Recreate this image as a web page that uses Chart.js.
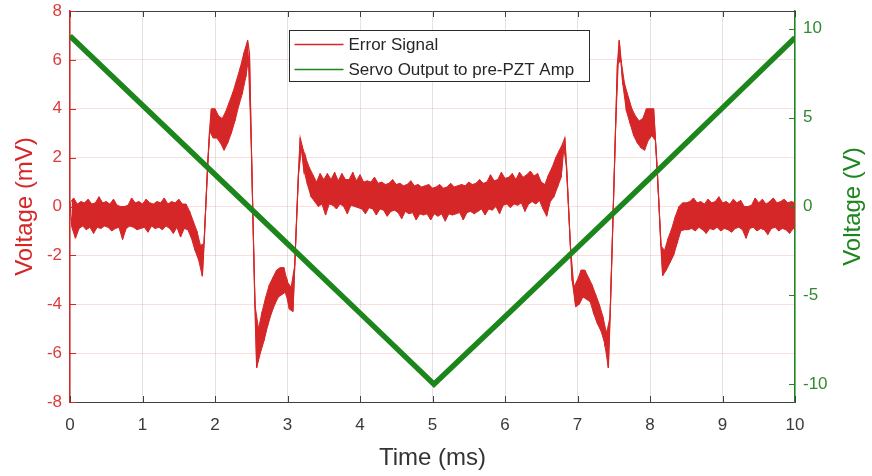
<!DOCTYPE html>
<html>
<head>
<meta charset="utf-8">
<script src="https://cdn.jsdelivr.net/npm/chart.js@4.4.1/dist/chart.umd.min.js"></script>
<style>
    html, body { margin: 0; padding: 0; background: #fff; }
    #wrap { width: 872px; height: 476px; }
</style>
</head>
<body>
<div id="wrap"><canvas id="myCanvas"></canvas></div>
<script>
// error signal envelope, one pair per 0.05 ms (upper edge, then lower edge half a step later)
const ERR_STEP = 0.05;
const errHi = [
    0.15, 0.35, 0.1, 0.2, 0.15, 0.3, 0.1, 0.15, 0.4, 0.15,          // 0.0 - 0.45
    0.2, 0.1, 0.3, 0.05, 0.0, 0.0, 0.05, 0.35, 0.15, 0.2,           // 0.5 - 0.95
    0.1, 0.3, 0.15, 0.1, 0.2, 0.15, 0.35, 0.1, 0.2, 0.15,           // 1.0 - 1.45
    0.3, 0.1, 0.1, -0.2, -0.6, -1.0, -1.6, -1.5, 1.8, 4.0,          // 1.5 - 1.95
    4.0, 3.7, 3.6, 3.9, 4.3, 4.7, 5.2, 5.7, 6.3, 6.8,               // 2.0 - 2.45
    2.6, -4.0, -5.0, -4.3, -3.7, -3.2, -2.9, -2.6, -2.5, -2.5,      // 2.5 - 2.95
    -3.1, -3.3, -2.4, 1.3, 2.5, 2.0, 1.6, 1.3, 1.0, 1.35,           // 3.0 - 3.45
    1.1, 1.35, 1.1, 1.4, 1.05, 1.35, 1.1, 1.1, 1.4, 1.05,           // 3.5 - 3.95
    1.3, 1.0, 1.05, 1.0, 1.2, 0.95, 1.0, 0.9, 0.95, 1.1,            // 4.0 - 4.45
    0.9, 0.95, 0.85, 0.9, 1.05, 0.85, 0.9, 0.8, 0.85, 0.9,          // 4.5 - 4.95
    0.75, 0.8, 0.9, 0.75, 0.8, 0.95, 0.8, 0.85, 0.9, 0.85,          // 5.0 - 5.45
    1.0, 0.9, 0.95, 1.1, 0.95, 1.0, 1.3, 1.05, 1.1, 1.4,            // 5.5 - 5.95
    1.15, 1.2, 1.35, 1.1, 1.4, 1.2, 1.3, 1.45, 1.25, 1.35,          // 6.0 - 6.45
    1.0, 0.9, 1.3, 1.6, 2.0, 2.3, 2.6, 1.6, -1.5, -3.3,             // 6.5 - 6.95
    -3.0, -2.6, -2.6, -2.9, -3.2, -3.6, -4.0, -4.5, -5.2, -4.5,     // 7.0 - 7.45
    0.6, 5.8, 6.0, 5.0, 4.5, 4.0, 3.7, 3.5, 3.6, 4.0,               // 7.5 - 7.95
    4.0, 4.0, 1.5, -1.6, -1.8, -1.3, -0.9, -0.4, 0.0, 0.15,         // 8.0 - 8.45
    0.15, 0.2, 0.35, 0.15, 0.2, 0.1, 0.3, 0.15, 0.2, 0.4,           // 8.5 - 8.95
    0.15, 0.2, 0.1, 0.3, 0.15, 0.25, 0.0, 0.0, 0.05, 0.35,          // 9.0 - 9.45
    0.15, 0.3, 0.1, 0.2, 0.35, 0.15, 0.2, 0.3, 0.15, 0.2,           // 9.5 - 9.95
    0.15                                                            // 10.0
];
const errLo = [
    -0.85, -1.3, -0.9, -0.8, -0.95, -0.85, -1.1, -0.85, -0.9, -0.8,
    -0.85, -1.0, -0.9, -0.85, -1.35, -0.9, -0.8, -0.85, -0.95, -0.9,
    -0.85, -1.05, -0.8, -0.9, -0.85, -0.95, -0.8, -0.9, -1.1, -0.85,
    -1.25, -0.9, -0.95, -1.3, -1.8, -2.2, -2.85, 0.15, 3.1, 2.8,
    2.8, 2.6, 2.3, 2.6, 3.0, 3.5, 4.1, 4.6, 5.3, 6.3,
    -0.7, -6.6, -6.0, -5.5, -4.9, -4.4, -4.0, -3.7, -3.6, -3.5,
    -4.2, -4.3, -0.55, 2.8, 1.5, 0.9, 0.4, 0.2, 0.0, 0.1,
    -0.35, 0.1, 0.05, -0.1, 0.1, 0.0, -0.3, 0.05, 0.0, -0.05,
    -0.1, -0.3, -0.05, -0.1, -0.35, -0.1, -0.15, -0.4, -0.2, -0.15,
    -0.25, -0.5, -0.2, -0.3, -0.25, -0.55, -0.3, -0.35, -0.3, -0.55,
    -0.3, -0.4, -0.3, -0.6, -0.3, -0.35, -0.3, -0.25, -0.55, -0.25,
    -0.2, -0.3, -0.2, -0.1, -0.35, -0.1, -0.15, 0.0, -0.3, 0.05,
    0.1, -0.05, 0.1, 0.05, 0.15, -0.2, 0.1, 0.2, 0.1, 0.25,
    -0.1, -0.4, 0.2, 0.4, 0.8, 1.2, 2.8, 0.05, -3.0, -4.1,
    -4.0, -3.7, -3.8, -3.9, -4.4, -4.8, -5.1, -5.6, -6.6, -1.95,
    3.2, 6.8, 5.0, 3.9, 3.4, 2.9, 2.6, 2.4, 2.3, 2.7,
    2.9, 2.7, 0.0, -2.83, -2.6, -2.3, -2.0, -1.5, -1.0, -0.95,
    -0.95, -0.9, -1.0, -0.85, -0.95, -1.1, -0.9, -0.95, -0.85, -1.0,
    -0.9, -0.95, -1.05, -0.9, -0.85, -0.95, -1.3, -0.9, -0.85, -1.0,
    -0.9, -0.95, -1.15, -0.9, -0.85, -1.0, -0.9, -0.95, -1.1, -0.9,
    -0.95
];

// servo ramp (V)
const servoTime = [0, 1, 2, 3, 4, 5.02, 6, 7, 8, 9, 10];
const servoVolts = [9.6, 5.7, 1.8, -2.1, -6.0, -10.0, -6.2, -2.3, 1.6, 5.55, 9.5];

const timeTicks = [0, 1, 2, 3, 4, 5, 6, 7, 8, 9, 10];
const mvTicks = [-8, -6, -4, -2, 0, 2, 4, 6, 8];
const voltTicks = [-10, -5, 0, 5, 10];

const RED = '#d62728';
const GREEN = '#1c861c';
const FONT = '"Liberation Sans", Arial, Helvetica, sans-serif';

function upperEdge() {
    return errHi.map(function (v, i) { return {x: i * ERR_STEP, y: v}; });
}

function lowerEdge() {
    return errLo.map(function (v, i) { return {x: i * ERR_STEP + ERR_STEP / 2, y: v}; });
}

// zig-zag between the two edges
function errorPoints() {
    var pts = [];
    for (var i = 0; i < errHi.length; i++) {
        var t = i * ERR_STEP;
        pts.push({x: t, y: errHi[i]});
        if (i < errLo.length) pts.push({x: t + ERR_STEP / 2, y: errLo[i]});
    }
    return pts;
}

function servoPoints() {
    return servoTime.map(function (t, i) { return {x: t, y: servoVolts[i]}; });
}

function fixedTicks(values) {
    return function (scale) {
        scale.ticks = values.map(function (v) { return {value: v}; });
    };
}

// inward tick marks, top frame line, right-hand title and the boxed legend
var plotDecor = {
    id: 'plotDecor',
    afterDraw: function (chart) {
        var ctx = chart.ctx;
        var a = chart.chartArea;
        var xs = chart.scales.x, yl = chart.scales.y, yr = chart.scales.y2;
        var len = 6;
        ctx.save();

        ctx.strokeStyle = '#404040';
        ctx.lineWidth = 1;
        ctx.beginPath();
        ctx.moveTo(a.left, a.top + 0.5);
        ctx.lineTo(a.right, a.top + 0.5);
        timeTicks.forEach(function (v) {
            var px = Math.round(xs.getPixelForValue(v)) + 0.5;
            ctx.moveTo(px, a.bottom);
            ctx.lineTo(px, a.bottom - len);
            ctx.moveTo(px, a.top);
            ctx.lineTo(px, a.top + len);
        });
        ctx.stroke();

        ctx.strokeStyle = RED;
        ctx.beginPath();
        mvTicks.forEach(function (v) {
            var py = Math.round(yl.getPixelForValue(v)) + 0.5;
            ctx.moveTo(a.left, py);
            ctx.lineTo(a.left + len, py);
        });
        ctx.stroke();

        ctx.strokeStyle = GREEN;
        ctx.beginPath();
        voltTicks.forEach(function (v) {
            var py = Math.round(yr.getPixelForValue(v)) + 0.5;
            ctx.moveTo(a.right, py);
            ctx.lineTo(a.right - len, py);
        });
        ctx.stroke();

        // right axis title, reading bottom to top like the left one
        ctx.translate(yr.right - 19, (a.top + a.bottom) / 2);
        ctx.rotate(-Math.PI / 2);
        ctx.fillStyle = GREEN;
        ctx.font = '24px ' + FONT;
        ctx.textAlign = 'center';
        ctx.textBaseline = 'middle';
        ctx.fillText('Voltage (V)', 0, 0);
        ctx.restore();

        // legend
        ctx.save();
        var bx = 289.5, by = 30.5, bw = 300, bh = 51;
        ctx.fillStyle = '#fff';
        ctx.fillRect(bx, by, bw, bh);
        ctx.strokeStyle = '#2b2b2b';
        ctx.lineWidth = 1;
        ctx.strokeRect(bx, by, bw, bh);
        ctx.font = '17px ' + FONT;
        ctx.textBaseline = 'middle';
        chart.data.datasets.filter(function (ds) { return !ds.legendSkip; }).forEach(function (ds, i) {
            var yy = by + 14 + i * 25;
            ctx.strokeStyle = ds.borderColor;
            ctx.lineWidth = 1.5;
            ctx.beginPath();
            ctx.moveTo(bx + 5, yy);
            ctx.lineTo(bx + 54, yy);
            ctx.stroke();
            ctx.fillStyle = '#262626';
            ctx.fillText(ds.label, bx + 59, yy + 1);
        });
        ctx.restore();
    }
};

var configure = {
    type: 'line',
    data: {
        datasets: [{
            label: 'Error Signal',
            data: errorPoints(),
            borderColor: RED,
            borderWidth: 1.2,
            pointRadius: 0,
            tension: 0,
            yAxisID: 'y',
            order: 2
        }, {
            label: 'Servo Output to pre-PZT Amp',
            data: servoPoints(),
            borderColor: GREEN,
            borderWidth: 5.5,
            pointRadius: 0,
            tension: 0,
            yAxisID: 'y2',
            order: 1
        }, {
            label: 'upper',
            legendSkip: true,
            data: upperEdge(),
            borderColor: RED,
            backgroundColor: RED,
            borderWidth: 1,
            pointRadius: 0,
            tension: 0,
            fill: '+1',
            yAxisID: 'y',
            order: 3
        }, {
            label: 'lower',
            legendSkip: true,
            data: lowerEdge(),
            borderColor: RED,
            borderWidth: 1,
            pointRadius: 0,
            tension: 0,
            fill: false,
            yAxisID: 'y',
            order: 3
        }]
    },
    options: {
        responsive: true,
        maintainAspectRatio: false,
        animation: false,
        layout: { padding: { top: 11, left: 0, right: 0, bottom: 0 } },
        plugins: {
            legend: { display: false },
            tooltip: { enabled: false }
        },
        scales: {
            x: {
                type: 'linear',
                min: 0,
                max: 10,
                afterBuildTicks: fixedTicks(timeTicks),
                afterFit: function (s) { s.height = 74; s.paddingLeft = 0; s.paddingRight = 0; },
                grid: { color: '#e3e3e3', drawTicks: false },
                border: { color: '#404040', width: 1 },
                ticks: { color: '#3a3a3a', padding: 13, font: { family: FONT, size: 17 } },
                title: {
                    display: true,
                    text: 'Time (ms)',
                    color: '#333',
                    padding: { top: 0, bottom: 3 },
                    font: { family: FONT, size: 24 }
                }
            },
            y: {
                position: 'left',
                min: -8,
                max: 8,
                afterBuildTicks: fixedTicks(mvTicks),
                afterFit: function (s) { s.width = 70; s.paddingTop = 0; s.paddingBottom = 0; },
                grid: { color: 'rgba(230, 90, 90, 0.2)', drawTicks: false },
                border: { color: RED, width: 1.5 },
                ticks: { color: '#dc3b3b', padding: 8, font: { family: FONT, size: 17 } },
                title: {
                    display: true,
                    text: 'Voltage (mV)',
                    color: RED,
                    padding: { top: 11, bottom: 0 },
                    font: { family: FONT, size: 24 }
                }
            },
            y2: {
                position: 'right',
                min: -11,
                max: 11,
                afterBuildTicks: fixedTicks(voltTicks),
                afterFit: function (s) { s.width = 77; s.paddingTop = 0; s.paddingBottom = 0; },
                grid: { drawOnChartArea: false, drawTicks: false },
                border: { color: GREEN, width: 1.5 },
                ticks: { color: '#2e8b2e', padding: 8, font: { family: FONT, size: 17 } }
            }
        }
    },
    plugins: [plotDecor]
};

window.errChart = new Chart(document.getElementById('myCanvas').getContext('2d'), configure);
</script>
</body>
</html>
